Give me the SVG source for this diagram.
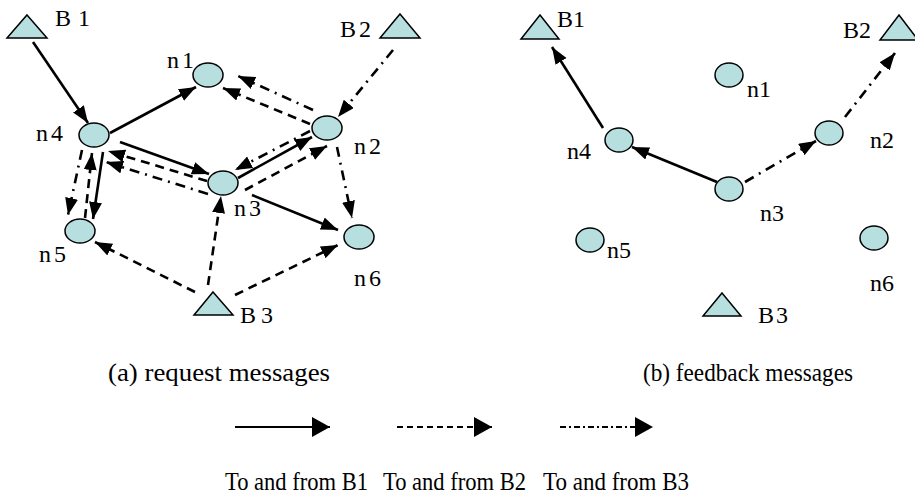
<svg xmlns="http://www.w3.org/2000/svg" width="915" height="501" viewBox="0 0 915 501">
<style>
.node{fill:#b8dfe0;stroke:#000;stroke-width:1.5}
.e{fill:none;stroke:#000;stroke-width:2.6}
.solid{marker-end:url(#ah)}
.dash{stroke-dasharray:9,6;marker-end:url(#ah)}
.dd{stroke-dasharray:10,6,2,6;marker-end:url(#ah)}
.lg{fill:none;stroke:#000;stroke-width:2;marker-end:url(#lah)}
</style>
<defs>
<marker id="ah" markerUnits="userSpaceOnUse" markerWidth="18" markerHeight="14" refX="17" refY="6.5" orient="auto">
<path d="M0,0 L17,6.5 L0,13 Z" fill="#000"/>
</marker>
<marker id="lah" markerUnits="userSpaceOnUse" markerWidth="20" markerHeight="22" refX="18" refY="10" orient="auto">
<path d="M0,0 L18,10 L0,20 Z" fill="#000"/>
</marker>
</defs>
<rect width="915" height="501" fill="#fff"/>

<g id="connectors">
<line class="e solid" x1="33" y1="42" x2="88" y2="123"/>
<line class="e solid" x1="110" y1="133" x2="196" y2="87"/>
<line class="e solid" x1="120" y1="142" x2="209" y2="174"/>
<line class="e solid" x1="103" y1="152" x2="93" y2="219"/>
<line class="e solid" x1="238" y1="178" x2="312" y2="137"/>
<line class="e solid" x1="252" y1="195" x2="338" y2="230"/>
<line class="e dash" x1="195" y1="292" x2="95" y2="242"/>
<line class="e dash" x1="208" y1="285" x2="221" y2="196"/>
<line class="e dash" x1="235" y1="295" x2="338" y2="245"/>
<line class="e dash" x1="310" y1="124" x2="223" y2="88"/>
<line class="e dash" x1="245" y1="190" x2="327" y2="146"/>
<line class="e dash" x1="207" y1="181" x2="108" y2="151"/>
<line class="e dash" x1="85" y1="218" x2="92" y2="153"/>
<line class="e dd" x1="393" y1="50" x2="338" y2="117"/>
<line class="e dd" x1="313" y1="110" x2="238" y2="76"/>
<line class="e dd" x1="310" y1="131" x2="235" y2="170"/>
<line class="e dd" x1="337" y1="147" x2="352" y2="218"/>
<line class="e dd" x1="208" y1="194" x2="106" y2="162"/>
<line class="e dd" x1="82" y1="150" x2="68" y2="215"/>
<line class="e solid" x1="603" y1="128" x2="552" y2="47"/>
<line class="e solid" x1="717" y1="182" x2="632" y2="147"/>
<line class="e dd" x1="745" y1="182" x2="816" y2="141"/>
<line class="e dd" x1="845" y1="117" x2="895" y2="53"/>
</g>

<g font-family="Liberation Serif, serif" font-size="24" fill="#000">
<g id="L-B1"><polygon class="node" points="27,15 47,38 7,38"/><text x="55" y="26" letter-spacing="7">B1</text></g>
<g id="L-B2"><polygon class="node" points="400,14 420,38 380,38"/><text x="340" y="37" letter-spacing="3">B2</text></g>
<g id="L-B3"><polygon class="node" points="213,292 233,315 194,315"/><text x="240" y="323" letter-spacing="5">B3</text></g>
<g id="L-n1"><ellipse class="node" cx="208" cy="75" rx="15" ry="12"/><text x="167" y="68" letter-spacing="3">n1</text></g>
<g id="L-n2"><ellipse class="node" cx="327" cy="128" rx="15" ry="12"/><text x="354" y="154" letter-spacing="3">n2</text></g>
<g id="L-n3"><ellipse class="node" cx="223" cy="183" rx="15" ry="12"/><text x="234" y="216" letter-spacing="3">n3</text></g>
<g id="L-n4"><ellipse class="node" cx="94" cy="135" rx="15" ry="12"/><text x="36" y="141" letter-spacing="3">n4</text></g>
<g id="L-n5"><ellipse class="node" cx="80" cy="231" rx="15" ry="12"/><text x="39" y="262" letter-spacing="3">n5</text></g>
<g id="L-n6"><ellipse class="node" cx="359" cy="237" rx="15" ry="12"/><text x="354" y="286" letter-spacing="3">n6</text></g>

<g id="R-B1"><polygon class="node" points="540,15 559,39 521,39"/><text x="557" y="27">B1</text></g>
<g id="R-B2"><polygon class="node" points="899,15 918,40 880,40"/><text x="843" y="38">B2</text></g>
<g id="R-B3"><polygon class="node" points="722,293 741,316 703,316"/><text x="758" y="323" letter-spacing="2">B3</text></g>
<g id="R-n1"><ellipse class="node" cx="729" cy="75" rx="14" ry="12"/><text x="747" y="97">n1</text></g>
<g id="R-n2"><ellipse class="node" cx="829" cy="133" rx="14" ry="12"/><text x="870" y="148">n2</text></g>
<g id="R-n3"><ellipse class="node" cx="729" cy="189" rx="14" ry="12"/><text x="760" y="221">n3</text></g>
<g id="R-n4"><ellipse class="node" cx="619" cy="140" rx="14" ry="12"/><text x="567" y="159">n4</text></g>
<g id="R-n5"><ellipse class="node" cx="590" cy="240" rx="14" ry="12"/><text x="607" y="258">n5</text></g>
<g id="R-n6"><ellipse class="node" cx="874" cy="238" rx="14" ry="12"/><text x="870" y="291">n6</text></g>

<text x="108" y="381" font-size="26" textLength="222" lengthAdjust="spacingAndGlyphs">(a) request messages</text>
<text x="643" y="381" font-size="26" textLength="210" lengthAdjust="spacingAndGlyphs">(b) feedback messages</text>
</g>

<g id="legend" font-family="Liberation Serif, serif" font-size="25" fill="#000">
<line class="lg" x1="235" y1="427" x2="330" y2="427"/>
<line class="lg" x1="397" y1="427" x2="492" y2="427" stroke-dasharray="6,4"/>
<line class="lg" x1="560" y1="427" x2="653" y2="427" stroke-dasharray="6,3,2,3"/>
<text x="225" y="490" textLength="143" lengthAdjust="spacingAndGlyphs">To and from B1</text>
<text x="383" y="490" textLength="143" lengthAdjust="spacingAndGlyphs">To and from B2</text>
<text x="543" y="490" textLength="146" lengthAdjust="spacingAndGlyphs">To and from B3</text>
</g>
</svg>
